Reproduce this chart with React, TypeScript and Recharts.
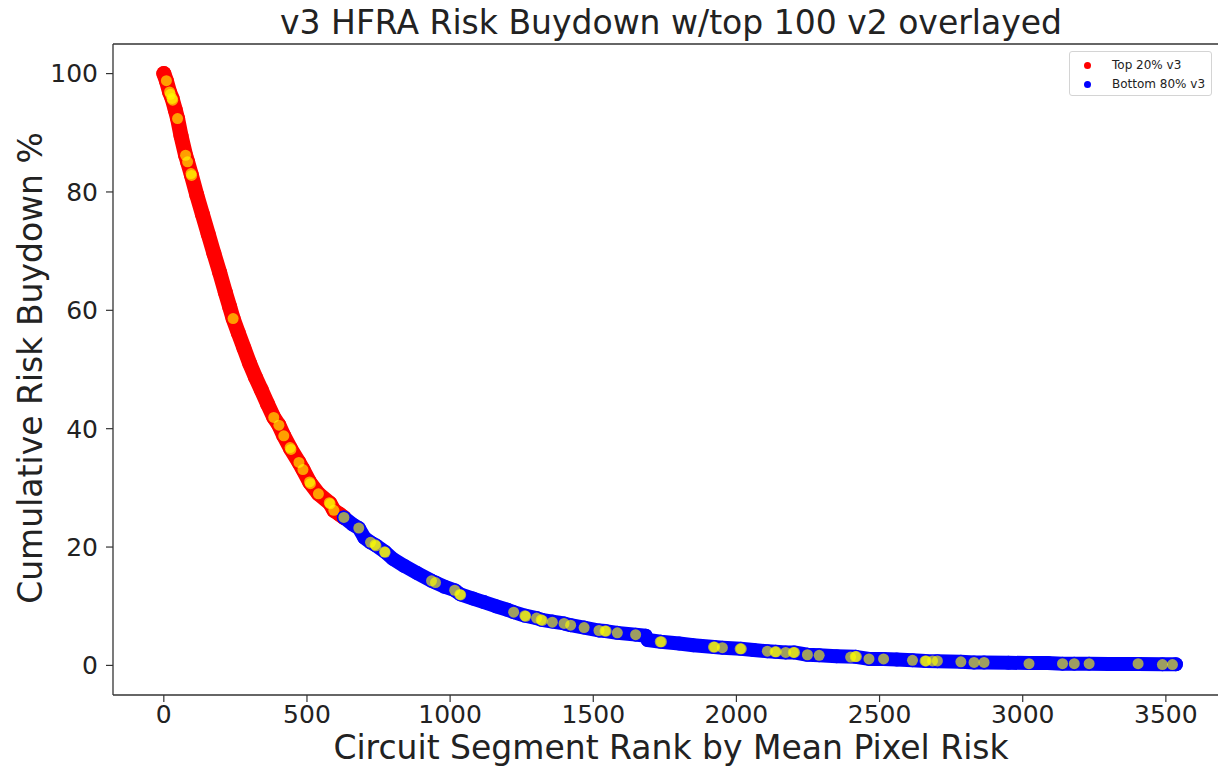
import { ReferenceLine, Scatter, ScatterChart, XAxis, YAxis } from "recharts";

// [rank, cumulative buydown %]
const top20: [number, number][] = [
  [0, 100], [9, 98.8], [20, 96.9], [29, 95.8], [40, 93.9], [48, 92.4], [60, 89.5],
  [76, 86.2], [83, 85.1], [96, 82.9], [115, 79.5], [135, 76.2], [155, 72.9],
  [175, 69.6], [195, 66.4], [215, 63.0], [230, 60.6], [242, 58.6], [260, 56.2],
  [280, 53.6], [300, 51.0], [320, 48.7], [340, 46.6], [362, 44.2], [384, 41.9],
  [402, 40.6], [419, 38.8], [443, 36.6], [472, 34.3], [486, 33.1], [510, 30.9],
  [540, 29.0], [580, 27.4], [594, 26.2], [615, 25.5], [629, 25.0],
];

const bottom80: [number, number][] = [
  [629, 25.0], [660, 23.8], [681, 23.2], [700, 21.6], [722, 20.8], [740, 20.3],
  [772, 19.2], [800, 18.0], [840, 16.8], [885, 15.6], [935, 14.3], [949, 14.0],
  [980, 13.3], [1016, 12.7], [1036, 12.0], [1080, 11.3], [1118, 10.7], [1160, 10.0],
  [1200, 9.4], [1222, 9.0], [1262, 8.4], [1302, 8.0], [1320, 7.7], [1357, 7.4],
  [1398, 7.1], [1421, 6.8], [1468, 6.4], [1520, 5.9], [1543, 5.8], [1584, 5.5],
  [1648, 5.2], [1683, 5.0], [1690, 4.3], [1736, 4.0], [1800, 3.7], [1850, 3.4],
  [1922, 3.1], [1951, 3.0], [2015, 2.8], [2060, 2.6], [2108, 2.4], [2137, 2.3],
  [2172, 2.2], [2201, 2.2], [2248, 1.8], [2289, 1.7], [2350, 1.55], [2417, 1.45],
  [2463, 1.1], [2514, 1.1], [2560, 1.0], [2615, 0.86], [2661, 0.75], [2702, 0.72],
  [2784, 0.6], [2830, 0.5], [2865, 0.5], [2950, 0.45], [3022, 0.4], [3087, 0.4],
  [3139, 0.3], [3180, 0.3], [3232, 0.3], [3300, 0.25], [3403, 0.22], [3488, 0.2],
  [3535, 0.2],
];

// top 100 v2 segments, overlayed
const v2Top100: [number, number][] = [
  [9, 98.8], [20, 96.9], [23, 96.5], [29, 95.8], [31, 95.5], [48, 92.4], [76, 86.2],
  [83, 85.1], [95, 83.1], [97, 82.8], [242, 58.6], [384, 41.9], [402, 40.6],
  [419, 38.8], [441, 36.8], [444, 36.5], [472, 34.3], [486, 33.1], [509, 31.0],
  [512, 30.7], [540, 29.0], [578, 27.5], [581, 27.3], [594, 26.2], [629, 25.0],
  [681, 23.2], [722, 20.8], [738, 20.4], [741, 20.2], [771, 19.2], [773, 19.1],
  [935, 14.3], [949, 14.0], [1016, 12.7], [1034, 12.0], [1037, 11.9], [1222, 9.0],
  [1261, 8.4], [1264, 8.3], [1302, 8.0], [1318, 7.7], [1322, 7.6], [1357, 7.3],
  [1398, 7.1], [1421, 6.8], [1468, 6.4], [1520, 5.9], [1541, 5.8], [1545, 5.8],
  [1584, 5.5], [1648, 5.2], [1734, 4.0], [1738, 4.0], [1920, 3.1], [1924, 3.1],
  [1951, 3.0], [2013, 2.8], [2017, 2.8], [2108, 2.4], [2135, 2.3], [2139, 2.3],
  [2172, 2.2], [2199, 2.2], [2203, 2.2], [2248, 1.8], [2289, 1.7], [2399, 1.4],
  [2415, 1.5], [2419, 1.5], [2463, 1.1], [2514, 1.1], [2615, 0.86], [2659, 0.75],
  [2663, 0.75], [2685, 0.75], [2702, 0.75], [2784, 0.6], [2830, 0.5], [2865, 0.5],
  [3022, 0.3], [3139, 0.3], [3180, 0.3], [3232, 0.3], [3403, 0.3], [3488, 0.15],
  [3523, 0.15],
];

const xTicks = [0, 500, 1000, 1500, 2000, 2500, 3000, 3500];
const yTicks = [0, 20, 40, 60, 80, 100];
const xDomain: [number, number] = [-177.5, 3727.5];
const yDomain: [number, number] = [-5, 105];

const legendItems = [
  { label: "Top 20% v3", color: "#ff0000" },
  { label: "Bottom 80% v3", color: "#0000ff" },
];

const FONT = '"DejaVu Sans", sans-serif';
const INK = "#222";

const toPoints = (rows: [number, number][]) => rows.map(([rank, pct]) => ({ rank, pct }));

const dot = (r: number, fill: string, opacity = 1) => (props: any) => (
  <circle cx={props.cx} cy={props.cy} r={r} fill={fill} fillOpacity={opacity} />
);

function LegendBox() {
  return (
    <div
      style={{
        position: "absolute",
        left: 1069,
        top: 51,
        width: 143,
        height: 45,
        boxSizing: "border-box",
        border: "1px solid #d4d4d4",
        borderRadius: 3,
        background: "#fff",
        fontFamily: FONT,
        fontSize: 12,
        color: INK,
      }}
    >
      {legendItems.map((item, i) => (
        <div key={item.label} style={{ position: "absolute", left: 0, top: 5 + i * 19, height: 16, width: "100%" }}>
          <span
            style={{
              position: "absolute",
              left: 14,
              top: 5,
              width: 7,
              height: 7,
              borderRadius: "50%",
              background: item.color,
            }}
          />
          <span style={{ position: "absolute", left: 42, top: 0, lineHeight: "16px", whiteSpace: "nowrap" }}>
            {item.label}
          </span>
        </div>
      ))}
    </div>
  );
}

export default function App() {
  return (
    <div
      style={{
        position: "absolute",
        left: 0,
        top: 0,
        width: 1218,
        height: 768,
        overflow: "hidden",
        background: "#fff",
        fontFamily: FONT,
      }}
    >
      <ScatterChart width={1240} height={768} margin={{ top: 44, right: 9, bottom: 0, left: 0 }}>
        <XAxis
          type="number"
          dataKey="rank"
          domain={xDomain}
          allowDataOverflow
          ticks={xTicks}
          height={73}
          tickSize={7}
          tickMargin={3}
          axisLine={{ stroke: "#333", strokeWidth: 1.3 }}
          tickLine={{ stroke: "#333", strokeWidth: 1.2 }}
          tick={{ fill: INK, fontSize: 25, fontFamily: FONT }}
        />
        <YAxis
          type="number"
          dataKey="pct"
          domain={yDomain}
          allowDataOverflow
          ticks={yTicks}
          width={113}
          tickSize={7}
          tickMargin={8}
          axisLine={{ stroke: "#333", strokeWidth: 1.3 }}
          tickLine={{ stroke: "#333", strokeWidth: 1.2 }}
          tick={{ fill: INK, fontSize: 25, fontFamily: FONT }}
        />
        <ReferenceLine y={yDomain[1]} stroke="#333" strokeWidth={1.3} />
        <Scatter
          name="Top 20% v3"
          data={toPoints(top20)}
          fill="#ff0000"
          line={{ stroke: "#ff0000", strokeWidth: 15, strokeLinecap: "round", strokeLinejoin: "round" }}
          shape={dot(7.5, "#ff0000")}
          isAnimationActive={false}
        />
        <Scatter
          name="Bottom 80% v3"
          data={toPoints(bottom80)}
          fill="#0000ff"
          line={{ stroke: "#0000ff", strokeWidth: 14, strokeLinecap: "round", strokeLinejoin: "round" }}
          shape={dot(7, "#0000ff")}
          isAnimationActive={false}
        />
        <Scatter
          name="top 100 v2"
          legendType="none"
          data={toPoints(v2Top100)}
          fill="#ffff00"
          shape={dot(5.5, "#ffff00", 0.62)}
          isAnimationActive={false}
        />
      </ScatterChart>

      <LegendBox />

      <div
        style={{
          position: "absolute",
          left: 671,
          top: 6,
          transform: "translateX(-50%)",
          fontSize: 33,
          lineHeight: 1,
          whiteSpace: "nowrap",
          color: INK,
        }}
      >
        v3 HFRA Risk Buydown w/top 100 v2 overlayed
      </div>
      <div
        style={{
          position: "absolute",
          left: 671,
          top: 731,
          transform: "translateX(-50%)",
          fontSize: 33,
          lineHeight: 1,
          whiteSpace: "nowrap",
          color: INK,
        }}
      >
        Circuit Segment Rank by Mean Pixel Risk
      </div>
      <div
        style={{
          position: "absolute",
          left: 30,
          top: 368,
          transform: "translate(-50%, -50%) rotate(-90deg)",
          fontSize: 33,
          lineHeight: 1,
          whiteSpace: "nowrap",
          color: INK,
        }}
      >
        Cumulative Risk Buydown %
      </div>
    </div>
  );
}
